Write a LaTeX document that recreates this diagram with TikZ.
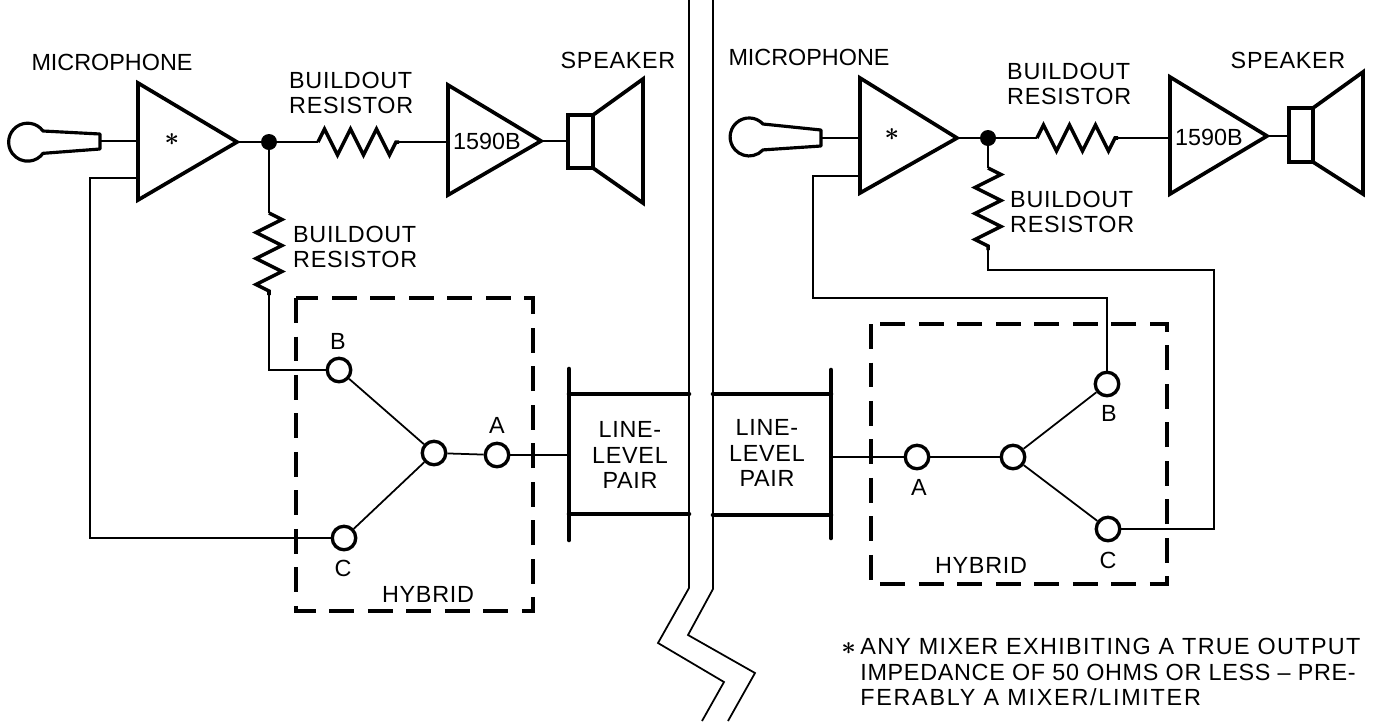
\documentclass[tikz,border=0pt]{standalone}
\usepackage{fontspec}
\setmainfont{Liberation Sans}[LetterSpace=3]
\usetikzlibrary{decorations.pathmorphing}

\begin{document}
\begin{tikzpicture}[
  x=0.02cm, y=-0.02cm,
  every node/.style={align=left, font=\fontsize{13.3}{14.6}\selectfont},
  tight/.style={font=\fontsize{13.3}{14.6}\selectfont\addfontfeatures{LetterSpace=0}},
  wire/.style={line width=1pt},
  heavy/.style={line width=2.1pt, line join=miter},
  mike/.style={line width=1.8pt, line join=round},
  resistor/.style={line width=2pt, decorate, decoration={zigzag, segment length=0.52cm, amplitude=0.26cm}},
  terminal/.style={circle, draw, line width=1.9pt, fill=white, minimum size=0.47cm, inner sep=0pt},
  junction/.style={circle, fill=black, minimum size=0.32cm, inner sep=0pt},
  linebar/.style={line width=2.6pt, line cap=round},
  hybridbox/.style={line width=2.3pt, dash pattern=on 0.5cm off 0.27cm}
]
\useasboundingbox (0,0) rectangle (1376,721);

% Break in the line
\draw[wire] (689,0) -- (689,588) -- (658,643) -- (724,682) -- (702,721);
\draw[wire] (713,0) -- (713,589) -- (688,635) -- (755,673) -- (728,721);

% Left station: microphone
\draw[mike] (100,134) -- (43,131) arc[start angle=36, end angle=324, radius=0.38cm] -- (100,149) -- cycle;
\coordinate (micl) at (100,141);
\node[tight] at (112,62) {MICROPHONE};

% Left station: mixer
\draw[heavy] (138,83) -- (237,142) -- (138,200) -- cycle;
\coordinate (mixlin) at (138,141);
\coordinate (mixlfb) at (138,178);
\coordinate (mixlout) at (237,142);
\node (starl) at (172,140) {{\boldmath\Large$\ast$}};
\node[junction] (dotl) at (269,142) {};

% Left station: buildout resistors
\coordinate (rlh1) at (318,142);
\coordinate (rlh2) at (399,142);
\coordinate (rlv1) at (269,213);
\coordinate (rlv2) at (269,295);
\node[anchor=west] (rlhtext) at (283,93) {BUILDOUT\\RESISTOR};
\node[anchor=west] (rlvtext) at (287,247) {BUILDOUT\\RESISTOR};

% Left station: receive amplifier and speaker
\draw[heavy] (448,85) -- (541,141) -- (448,195) -- cycle;
\coordinate (ampl) at (448,142);
\coordinate (amplout) at (541,141);
\node[tight] (typel) at (487,141) {1590B};
\draw[heavy] (568,115) rectangle (593,168);
\draw[heavy] (593,115) -- (643,79) -- (643,203) -- (593,168);
\coordinate (spkl) at (568,141);
\node at (618,60) {SPEAKER};

% Left station: hybrid
\draw[hybridbox] (296,298) rectangle (533,611);
\node[terminal] (bl) at (339,370) {};
\node[terminal] (cl) at (344,538) {};
\node[terminal] (hubl) at (434,453) {};
\node[terminal] (al) at (497,455) {};
\node at (338,341) {B};
\node at (343,568) {C};
\node at (497,425) {A};
\node at (428,594) {HYBRID};

% Left station: line-level pair
\coordinate (pairl) at (569,455);
\draw[linebar] (569,369) -- (569,540);
\draw[linebar] (569,394) -- (689,394);
\draw[linebar] (569,514) -- (689,514);
\node[align=center] at (630,455) {LINE-\\LEVEL\\PAIR};

% Left station: wiring
\draw[wire] (micl) -- (mixlin);
\draw[wire] (mixlout) -- (dotl) -- (rlh1);
\draw[resistor] (rlh1) -- (rlh2);
\draw[wire] (rlh2) -- (ampl);
\draw[wire] (amplout) -- (spkl);
\draw[wire] (dotl) -- (rlv1);
\draw[resistor] (rlv1) -- (rlv2);
\draw[wire] (rlv2) |- (bl);
\draw[wire] (mixlfb) -- (90,178) |- (cl);
\draw[wire] (bl) -- (hubl);
\draw[wire] (cl) -- (hubl);
\draw[wire] (hubl) -- (al);
\draw[wire] (al) -- (pairl);

% Right station: microphone
\draw[mike] (821,130) -- (763,124) arc[start angle=43, end angle=317, radius=0.38cm] -- (821,146) -- cycle;
\coordinate (micr) at (821,138);
\node[tight] at (809,57) {MICROPHONE};

% Right station: mixer
\draw[heavy] (860,78) -- (957,138) -- (860,193) -- cycle;
\coordinate (mixrin) at (860,138);
\coordinate (mixrfb) at (860,176);
\coordinate (mixrout) at (957,138);
\node (starr) at (892,135) {{\boldmath\Large$\ast$}};
\node[junction] (dotr) at (988,138) {};

% Right station: buildout resistors
\coordinate (rrh1) at (1037,138);
\coordinate (rrh2) at (1118,138);
\coordinate (rrv1) at (988,168);
\coordinate (rrv2) at (988,250);
\node[anchor=west] (rrhtext) at (1001,84) {BUILDOUT\\RESISTOR};
\node[anchor=west] (rrvtext) at (1004,212) {BUILDOUT\\RESISTOR};

% Right station: receive amplifier and speaker
\draw[heavy] (1170,77) -- (1267,136) -- (1170,194) -- cycle;
\coordinate (ampr) at (1170,138);
\coordinate (amprout) at (1267,136);
\node[tight] (typer) at (1209,137) {1590B};
\draw[heavy] (1289,108) rectangle (1313,162);
\draw[heavy] (1313,108) -- (1363,72) -- (1363,194) -- (1313,162);
\coordinate (spkr) at (1289,136);
\node at (1288,60) {SPEAKER};

% Right station: hybrid
\draw[hybridbox] (871,324) rectangle (1167,584);
\node[terminal] (br) at (1107,384) {};
\node[terminal] (cr) at (1108,529) {};
\node[terminal] (hubr) at (1013,457) {};
\node[terminal] (ar) at (917,457) {};
\node at (1109,413) {B};
\node at (1108,560) {C};
\node at (919,487) {A};
\node at (981,565) {HYBRID};

% Right station: line-level pair
\coordinate (pairr) at (831,457);
\draw[linebar] (831,370) -- (831,538);
\draw[linebar] (713,394) -- (831,394);
\draw[linebar] (713,515) -- (831,515);
\node[align=center] at (767,453) {LINE-\\LEVEL\\PAIR};

% Right station: wiring
\draw[wire] (micr) -- (mixrin);
\draw[wire] (mixrout) -- (dotr) -- (rrh1);
\draw[resistor] (rrh1) -- (rrh2);
\draw[wire] (rrh2) -- (ampr);
\draw[wire] (amprout) -- (spkr);
\draw[wire] (dotr) -- (rrv1);
\draw[resistor] (rrv1) -- (rrv2);
\draw[wire] (rrv2) -- (988,270) -- (1214,270) |- (cr);
\draw[wire] (mixrfb) -- (813,176) -- (813,298) -| (br);
\draw[wire] (br) -- (hubr);
\draw[wire] (cr) -- (hubr);
\draw[wire] (hubr) -- (ar);
\draw[wire] (ar) -- (pairr);

% Footnote
\node[anchor=north west, inner sep=0pt] (note) at (841,638) {\makebox[10.8pt][l]{\boldmath\Large$\ast$}{\addfontfeatures{LetterSpace=5.8}ANY MIXER EXHIBITING A TRUE OUTPUT}\\\hspace*{10.8pt}IMPEDANCE OF 50 OHMS OR LESS -- PRE-\\\hspace*{10.8pt}{\addfontfeatures{LetterSpace=7.4}FERABLY A MIXER/LIMITER}};

\end{tikzpicture}
\end{document}
